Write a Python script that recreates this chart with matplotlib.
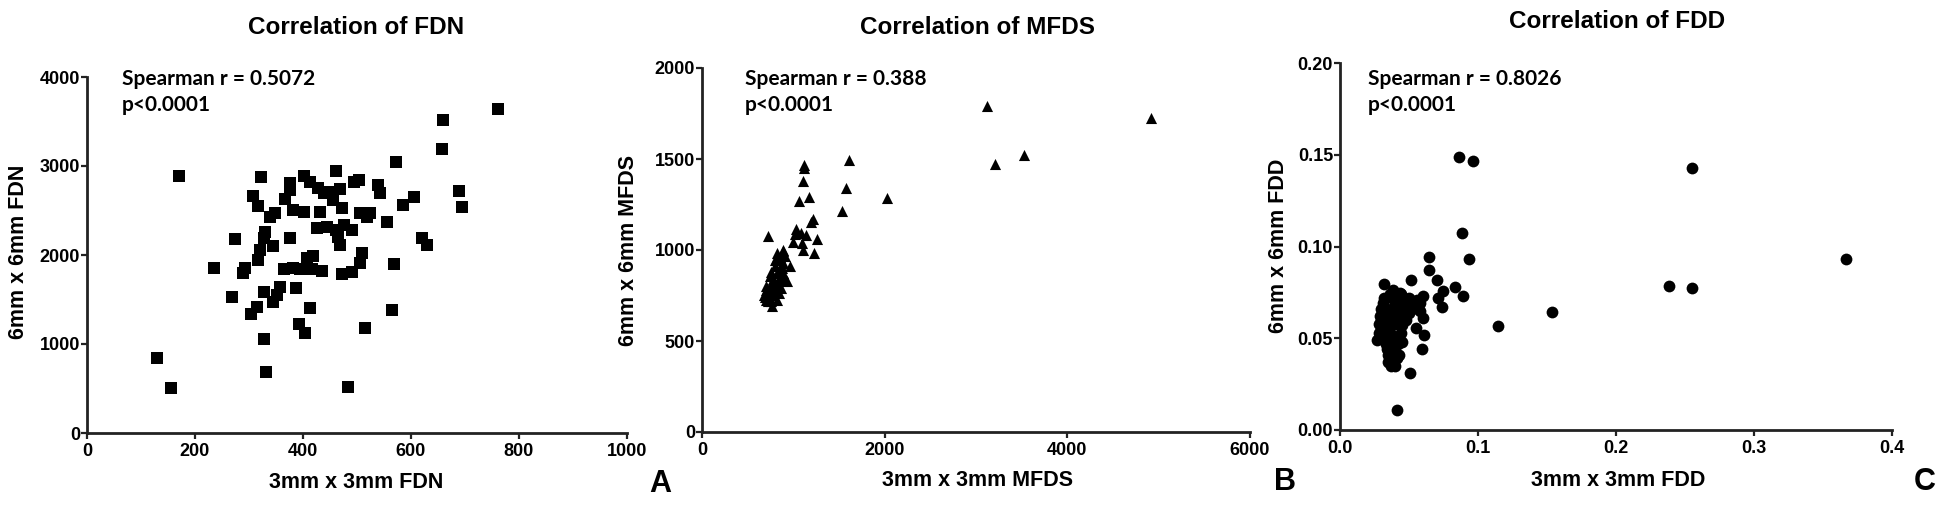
import numpy as np
import matplotlib
matplotlib.use("Agg")
import matplotlib.pyplot as plt

# ---- data ----
fdn_3mm = [171, 322, 462, 573, 401, 413, 376, 494, 504, 539, 543, 308, 317, 367, 376,
           428, 438, 450, 469, 456, 472, 382, 401, 431, 339, 348, 506, 518, 524, 555,
           586, 606, 688, 694, 425, 444, 462, 475, 490, 465, 469, 274, 375, 330, 327,
           320, 317, 345, 620, 629, 235, 293, 289, 364, 382, 394, 407, 419, 416, 436,
           473, 490, 506, 509, 569, 268, 328, 357, 351, 345, 387, 314, 304, 413, 565,
           393, 404, 514, 328, 130, 331, 155, 484, 762, 659, 658]
fdn_6mm = [2888, 2880, 2947, 3049, 2888, 2824, 2813, 2824, 2843, 2787, 2700, 2663, 2551, 2625, 2730,
           2749, 2693, 2712, 2738, 2618, 2525, 2506, 2487, 2487, 2431, 2468, 2468, 2431, 2468, 2374,
           2562, 2655, 2723, 2536, 2300, 2318, 2281, 2337, 2281, 2206, 2112, 2180, 2188, 2262, 2188,
           2056, 1944, 2097, 2188, 2112, 1857, 1850, 1794, 1839, 1850, 1839, 1963, 1989, 1839, 1824,
           1783, 1813, 1907, 2026, 1899, 1532, 1588, 1644, 1551, 1476, 1626, 1419, 1334, 1401, 1382,
           1225, 1120, 1176, 1053, 839, 689, 502, 520, 3646, 3515, 3187]

mfds_3mm = [3118, 4916, 3530, 3209, 1613, 1117, 1117, 1103, 1574, 1066, 1172, 2023, 1530, 1219,
            1190, 726, 1030, 1019, 1081, 1139, 1256, 1000, 1092, 1110, 1227, 891, 964,
            885, 817, 794, 794, 840, 885, 931, 862, 794, 749, 704, 681, 772, 726, 763, 794,
            840, 749, 817, 885, 908, 862, 704, 817, 749, 840, 860, 900, 780, 720, 690, 750,
            800, 870, 830, 760, 810, 850, 880, 700]
mfds_6mm = [1793, 1725, 1522, 1473, 1495, 1449, 1467, 1381, 1339, 1271, 1293, 1284, 1216, 1169,
            1156, 1075, 1114, 1088, 1092, 1082, 1059, 1046, 1037, 1000, 985, 1000, 912,
            993, 984, 947, 910, 892, 874, 828, 837, 819, 800, 782, 755, 755, 718, 690, 782,
            800, 855, 874, 929, 965, 910, 727, 727, 764, 764, 860, 850, 840, 760, 740, 720,
            800, 790, 830, 880, 950, 960, 900, 800]

fdd_3mm = [0.0863, 0.0962, 0.255, 0.367, 0.2385, 0.255, 0.0886, 0.0937, 0.0645, 0.0645, 0.0512,
           0.070, 0.0749, 0.0833, 0.0889, 0.0713, 0.0737, 0.0319, 0.1147, 0.1538, 0.0599, 0.0604,
           0.0551, 0.0609, 0.0596, 0.0507, 0.0411, 0.0507, 0.0531, 0.058, 0.0386, 0.0435,
           0.028, 0.028, 0.027, 0.029, 0.030, 0.031, 0.032, 0.030, 0.032, 0.033, 0.034, 0.035,
           0.035, 0.037, 0.040, 0.041, 0.040, 0.042, 0.043, 0.044, 0.045, 0.046, 0.047, 0.048,
           0.050, 0.052, 0.054, 0.056, 0.058, 0.036, 0.038, 0.040, 0.042, 0.044, 0.033, 0.035,
           0.037, 0.039, 0.041, 0.036, 0.038, 0.034, 0.039, 0.036, 0.032, 0.045, 0.043, 0.038,
           0.048, 0.050, 0.052, 0.030, 0.046, 0.044]
fdd_6mm = [0.149, 0.1466, 0.1426, 0.0934, 0.0785, 0.0776, 0.1072, 0.0932, 0.0941, 0.0872, 0.0817,
           0.0817, 0.0759, 0.0778, 0.0730, 0.0718, 0.0672, 0.0794, 0.0569, 0.0645, 0.0729, 0.0609,
           0.0554, 0.0518, 0.0440, 0.0309, 0.0109, 0.0708, 0.0672, 0.065, 0.0763, 0.0745,
           0.058, 0.053, 0.049, 0.062, 0.066, 0.069, 0.072, 0.055, 0.051, 0.047, 0.044, 0.041,
           0.037, 0.035, 0.035, 0.039, 0.043, 0.047, 0.050, 0.053, 0.057, 0.061, 0.065, 0.069,
           0.072, 0.070, 0.068, 0.071, 0.069, 0.074, 0.072, 0.070, 0.067, 0.064, 0.060, 0.063,
           0.066, 0.061, 0.058, 0.056, 0.052, 0.049, 0.047, 0.045, 0.064, 0.048, 0.041, 0.039,
           0.060, 0.064, 0.066, 0.060, 0.071, 0.074]

titles = ["Correlation of FDN", "Correlation of MFDS", "Correlation of FDD"]
xlabels = ["3mm x 3mm FDN", "3mm x 3mm MFDS", "3mm x 3mm FDD"]
ylabels = ["6mm x 6mm FDN", "6mm x 6mm MFDS", "6mm x 6mm FDD"]
stats = ["Spearman r = 0.5072\np<0.0001", "Spearman r = 0.388\np<0.0001",
         "Spearman r = 0.8026\np<0.0001"]
letters = ["A", "B", "C"]

W, H = 1950, 512
plt.rcParams['font.family'] = ['Liberation Sans', 'DejaVu Sans']
plt.rcParams['font.weight'] = 'bold'
fig = plt.figure(figsize=(W / 100, H / 100), dpi=100)


def px(x, y):
    return x / W, 1 - y / H


def box(l, t, r, b):
    return [l / W, 1 - b / H, (r - l) / W, (b - t) / H]


# (left, top, right, bottom) in pixels
boxes = [(87, 77, 627, 433), (702, 68, 1250, 432), (1340, 63, 1892, 430)]
xlims = [(0, 1000), (0, 6000), (0, 0.4)]
ylims = [(0, 4000), (0, 2000), (0, 0.20)]
xticks = [np.arange(0, 1001, 200), np.arange(0, 6001, 2000), np.arange(0, 0.41, 0.1)]
yticks = [np.arange(0, 4001, 1000), np.arange(0, 2001, 500), np.arange(0, 0.201, 0.05)]
xfmt = ["{:.0f}", "{:.0f}", "{:.1f}"]
yfmt = ["{:.0f}", "{:.0f}", "{:.2f}"]
markers = ["s", "^", "o"]
sizes = [64, 64, 72]
data = [(fdn_3mm, fdn_6mm), (mfds_3mm, mfds_6mm), (fdd_3mm, fdd_6mm)]

title_pos = [(356, 27), (977, 27), (1617, 22)]
xlabel_pos = [(356, 483), (977, 481), (1618, 480)]
ylabel_pos = [(19, 252), (629, 250), (1279, 246)]
letter_pos = [(660, 484), (1285, 482), (1925, 482)]
stat_pos = [(122, 92), (745, 92), (1368, 92)]

for i in range(3):
    ax = fig.add_axes(box(*boxes[i]))
    xs, ys = data[i]
    ax.scatter(xs, ys, marker=markers[i], s=sizes[i], c='black', linewidths=0)
    ax.set_xlim(*xlims[i])
    ax.set_ylim(*ylims[i])
    ax.set_xticks(xticks[i])
    ax.set_yticks(yticks[i])
    ax.set_xticklabels([xfmt[i].format(v) for v in xticks[i]])
    ax.set_yticklabels([yfmt[i].format(v) for v in yticks[i]])
    for s in ['top', 'right']:
        ax.spines[s].set_visible(False)
    for s in ['left', 'bottom']:
        ax.spines[s].set_linewidth(2)
        ax.spines[s].set_color('#222222')
    ax.tick_params(width=1.6, length=4, labelsize=13, color='#222222')
    ax.tick_params(axis='x', pad=3)
    ax.tick_params(axis='y', pad=1)
    for lab in ax.get_xticklabels() + ax.get_yticklabels():
        lab.set_fontweight('bold')
    ax.patch.set_alpha(0)

    fig.text(*px(*title_pos[i]), titles[i], ha='center', va='center',
             fontsize=17.5, fontweight='bold')
    fig.text(*px(*xlabel_pos[i]), xlabels[i], ha='center', va='center',
             fontsize=15.5, fontweight='bold')
    fig.text(*px(*ylabel_pos[i]), ylabels[i], ha='center', va='center',
             rotation=90, fontsize=15.5, fontweight='bold')
    fig.text(*px(*letter_pos[i]), letters[i], ha='center', va='center',
             fontsize=22, fontweight='bold')
    fig.text(*px(*stat_pos[i]), stats[i], ha='left', va='center',
             fontsize=15, fontweight='bold', linespacing=1.4,
             family=['Lato', 'DejaVu Sans'])

fig.savefig("out.png", dpi=100)
